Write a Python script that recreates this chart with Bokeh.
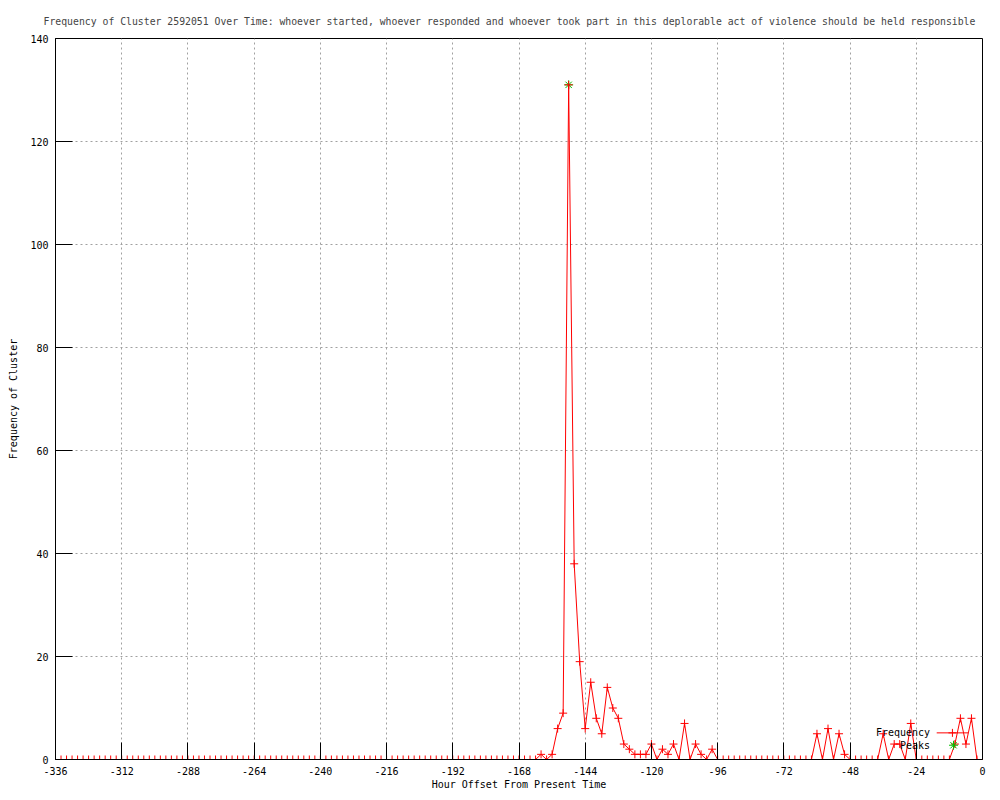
from bokeh.plotting import figure
from bokeh.models import Range1d, FixedTicker
from bokeh.embed import file_html
from bokeh.resources import INLINE
from bokeh.core.properties import value

TITLE = ("Frequency of Cluster 2592051 Over Time: whoever started, whoever responded "
         "and whoever took part in this deplorable act of violence should be held responsible")
X_LABEL = "Hour Offset From Present Time"
Y_LABEL = "Frequency of Cluster"

# hour offsets, every 2 hours from -336 to 0
hours = list(range(-336, 1, 2))
frequency = [
    0, 0, 0, 0, 0, 0, 0, 0, 0, 0, 0, 0,          # -336 .. -314
    0, 0, 0, 0, 0, 0, 0, 0, 0, 0, 0, 0,          # -312 .. -290
    0, 0, 0, 0, 0, 0, 0, 0, 0, 0, 0, 0,          # -288 .. -266
    0, 0, 0, 0, 0, 0, 0, 0, 0, 0, 0, 0,          # -264 .. -242
    0, 0, 0, 0, 0, 0, 0, 0, 0, 0, 0, 0,          # -240 .. -218
    0, 0, 0, 0, 0, 0, 0, 0, 0, 0, 0, 0,          # -216 .. -194
    0, 0, 0, 0, 0, 0, 0, 0, 0, 0, 0, 0,          # -192 .. -170
    0, 0, 0, 0, 1, 0, 1, 6, 9, 131, 38, 19,      # -168 .. -146
    6, 15, 8, 5, 14, 10, 8, 3, 2, 1, 1, 1,       # -144 .. -122
    3, 0, 2, 1, 3, 0, 7, 0, 3, 1, 0, 2,          # -120 .. -98
    0, 0, 0, 0, 0, 0, 0, 0, 0, 0, 0, 0,          # -96 .. -74
    0, 0, 0, 0, 0, 0, 5, 0, 6, 0, 5, 1,          # -72 .. -50
    0, 0, 0, 0, 0, 0, 5, 0, 3, 3, 0, 7,          # -48 .. -26
    0, 0, 0, 0, 0, 0, 0, 3, 8, 3, 8, 0,          # -24 .. -2
    0,                                           # 0
]
peak_hours = [-150]
peak_values = [131]

x_ticks = list(range(-336, 1, 24))
y_ticks = list(range(0, 141, 20))

FONT = "DejaVu Sans Mono"
RED = "#ff0000"
GREEN = "#00c000"

p = figure(width=992, height=792, output_backend="svg", toolbar_location=None,
           x_range=Range1d(-336, 0), y_range=Range1d(0, 140),
           min_border_left=55, min_border_right=10, min_border_top=38, min_border_bottom=33)

p.background_fill_color = "white"
p.border_fill_color = "white"
p.outline_line_color = "black"
p.outline_line_width = 1
p.outline_line_alpha = 1

p.title.text = TITLE
p.title.text_font = FONT
p.title.text_font_size = "9.8px"
p.title.text_font_style = "normal"
p.title.align = "left"
p.title.offset = -12
p.title.standoff = 23

p.xaxis.ticker = FixedTicker(ticks=x_ticks, minor_ticks=[])
p.yaxis.ticker = FixedTicker(ticks=y_ticks, minor_ticks=[])
p.xaxis.major_label_overrides = {t: str(t) for t in x_ticks}
p.yaxis.major_label_overrides = {t: str(t) for t in y_ticks}
for ax in (p.xaxis, p.yaxis):
    ax.axis_line_color = "black"
    ax.major_tick_line_color = "black"
    ax.major_tick_in = 17
    ax.major_tick_out = 0
    ax.minor_tick_line_color = None
    ax.major_label_text_font = FONT
    ax.major_label_text_font_size = "10px"
    ax.major_label_text_color = "black"
    ax.axis_label_text_font = FONT
    ax.axis_label_text_font_size = "10px"
    ax.axis_label_text_font_style = "normal"
    ax.axis_label_text_color = "black"
p.xaxis.axis_label = X_LABEL
p.yaxis.axis_label = Y_LABEL
p.xaxis.major_label_standoff = 7
p.xaxis.axis_label_standoff = 1
p.yaxis.major_label_standoff = 7
p.yaxis.axis_label_standoff = 8
p.yaxis.major_label_orientation = "horizontal"

p.xgrid.ticker = FixedTicker(ticks=x_ticks, minor_ticks=[])
p.ygrid.ticker = FixedTicker(ticks=y_ticks, minor_ticks=[])
for g in (p.xgrid, p.ygrid):
    g.grid_line_color = "#a0a0a0"
    g.grid_line_dash = "2 3"
    g.grid_line_width = 1

# peaks (green asterisks)
p.scatter(peak_hours, peak_values, marker="asterisk", size=9, line_color=GREEN, line_width=1)

# frequency line with + markers
p.line(hours, frequency, line_color=RED, line_width=1)
p.scatter(hours, frequency, marker="cross", size=8, line_color=RED, line_width=1)

# key (gnuplot style: label on the left, sample on the right)
KEY_TEXT_X = -19.0
KEY_Y1 = 5.17
KEY_Y2 = 2.77
KEY_LINE_X = [-16.6, -5.2]
KEY_MARK_X = -10.9
p.text(x=[KEY_TEXT_X], y=[KEY_Y1], text=["Frequency"], text_align="right",
       text_baseline="middle", text_font=value(FONT), text_font_size="10px", text_color="black")
p.text(x=[KEY_TEXT_X], y=[KEY_Y2], text=["Peaks"], text_align="right",
       text_baseline="middle", text_font=value(FONT), text_font_size="10px", text_color="black")
p.line(KEY_LINE_X, [KEY_Y1, KEY_Y1], line_color=RED, line_width=1)
p.scatter([KEY_MARK_X], [KEY_Y1], marker="cross", size=8, line_color=RED)
p.scatter([KEY_MARK_X + 0.4], [KEY_Y2], marker="asterisk", size=9, line_color=GREEN)

open("out.html", "w").write(file_html(p, INLINE))
